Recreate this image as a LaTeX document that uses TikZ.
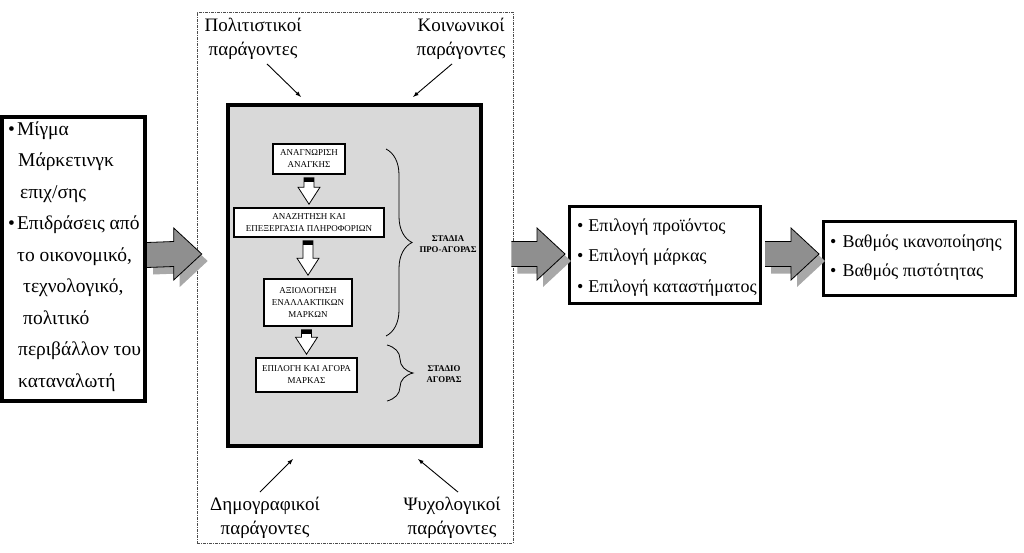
\documentclass[tikz,border=0pt]{standalone}
\usepackage{fontspec}
\setmainfont{Liberation Serif}
\usetikzlibrary{calc,decorations.pathreplacing}
\definecolor{boxgray}{RGB}{217,217,217}
\definecolor{arrowgray}{RGB}{143,143,143}
\definecolor{shadegray}{RGB}{168,168,168}
\tikzset{
  bigbox/.style={draw, line width=3pt, fill=white},
  stagebox/.style={draw, line width=1.6pt, fill=white, align=center, inner sep=0pt,
    font=\fontsize{9}{12}\selectfont},
  factor/.style={align=center, inner sep=0pt, font=\fontsize{19}{24}\selectfont},
  items/.style={anchor=west, align=left, inner sep=0pt},
  stagelabel/.style={align=center, inner sep=0pt, font=\bfseries\fontsize{8.8}{11}\selectfont},
  pointer/.style={->, line width=.9pt},
  stagebrace/.style={decorate, decoration={brace, amplitude=26pt}, line width=.8pt}
}
\begin{document}
\begin{tikzpicture}[>=latex, x=1pt, y=-1pt]
\useasboundingbox (0,0) rectangle (1024,553);

% outer frame and the shaded stage box
\node (env) at (355,277.5)[draw=black!70, line width=.6pt, dash pattern=on 3pt off 1pt on 1pt off 1pt,
  minimum width=316pt, minimum height=531pt]{};
\node (stages) at (354.5,275.5)[draw, line width=3.5pt, fill=boxgray, minimum width=253pt, minimum height=341pt]{};

% left, middle and right boxes
\node (infl) at (73.5,259)[bigbox, line width=4pt, minimum width=143pt, minimum height=284pt]{};
\node (infltext) at (8,256.5)[items, font=\fontsize{19.5}{31.5}\selectfont]{\textbullet\hspace{2pt}Μίγμα\\
  \hspace*{10pt}Μάρκετινγκ\\ \hspace*{12pt}επιχ/σης\\ \textbullet\hspace{2pt}Επιδράσεις από\\
  \hspace*{9pt}το οικονομικό,\\ \hspace*{15pt}τεχνολογικό,\\ \hspace*{15pt}πολιτικό\\
  \hspace*{10pt}περιβάλλον του\\ \hspace*{10pt}καταναλωτή};
\node (choice) at (665,255)[bigbox, minimum width=191pt, minimum height=97pt]{};
\node (choicetext) at (577,257.5)[items, font=\fontsize{18}{30.5}\selectfont]{\textbullet\hspace{5pt}Επιλογή προϊόντος\\
  \textbullet\hspace{5pt}Επιλογή μάρκας\\ \textbullet\hspace{5pt}Επιλογή καταστήματος};
\node (outcome) at (919.5,258.5)[bigbox, minimum width=192pt, minimum height=74pt]{};
\node (outcometext) at (830,257.5)[items, font=\fontsize{18}{29}\selectfont]{\textbullet\hspace{6pt}Βαθμός ικανοποίησης\\
  \textbullet\hspace{6pt}Βαθμός πιστότητας};

% factors
\node (cult) at (253,39)[factor]{Πολιτιστικοί\\παράγοντες};
\node (soc) at (461,39)[factor]{Κοινωνικοί\\παράγοντες};
\node (demo) at (265,518)[factor]{Δημογραφικοί\\παράγοντες};
\node (psych) at (452,518)[factor]{Ψυχολογικοί\\παράγοντες};
\coordinate (cultend) at (301,97);
\coordinate (socend) at (413,97);
\coordinate (demoend) at (293,459);
\coordinate (psychend) at (418,459);
\draw[pointer] ($(cult.south)+(14,4)$) -- (cultend);
\draw[pointer] ($(soc.south)+(-9,4)$) -- (socend);
\draw[pointer] ($(demo.north)+(-5,-5)$) -- (demoend);
\draw[pointer] ($(psych.north)+(6,-5)$) -- (psychend);

% decision stages
\node (need) at (309,159)[stagebox, minimum width=72pt, minimum height=30pt]{ΑΝΑΓΝΩΡΙΣΗ\\ΑΝΑΓΚΗΣ};
\node (search) at (309,222.5)[stagebox, minimum width=150pt, minimum height=29pt]{ΑΝΑΖΗΤΗΣΗ ΚΑΙ\\ΕΠΕΞΕΡΓΑΣΙΑ ΠΛΗΡΟΦΟΡΙΩΝ};
\node (eval) at (308,302.5)[stagebox, minimum width=88pt, minimum height=47pt]{ΑΞΙΟΛΟΓΗΣΗ\\ΕΝΑΛΛΑΚΤΙΚΩΝ\\ΜΑΡΚΩΝ};
\node (buy) at (306.5,375)[stagebox, minimum width=101pt, minimum height=34pt]{ΕΠΙΛΟΓΗ ΚΑΙ ΑΓΟΡΑ\\ΜΑΡΚΑΣ};

% hollow arrows between stages
\foreach \a/\b in {need/search, search/eval, eval/buy}{
  \coordinate (p) at ($(\a.south)+(0,3)$);
  \coordinate (q) at ($(\b.north)+(0,-3)$);
  \coordinate (ql) at ($(q)+(-5,0)$);
  \coordinate (qr) at ($(q)+(5,0)$);
  \draw[line width=.8pt, fill=white] (q) -- ++(-11,-17) -- ++(6,0) -- (ql |- p) -- (qr |- p)
    -- ($(q)+(5,-17)$) -- ++(6,0) -- cycle;
  \fill ($(ql |- p)+(-.4,0)$) rectangle ($(qr |- p)+(.4,4)$);
}

% braces
\draw[stagebrace] (386,149) -- (386,336);
\draw[stagebrace] (387,345) -- (387,401);
\node (pre) at (448,244)[stagelabel]{ΣΤΑΔΙΑ\\ΠΡΟ-ΑΓΟΡΑΣ};
\node (purch) at (444,374)[stagelabel]{ΣΤΑΔΙΟ\\ΑΓΟΡΑΣ};

% block arrows
\coordinate (a1s) at (infl.east |- choice.west);
\coordinate (a1t) at ($(env.west |- choice.west)+(5,-1)$);
\coordinate (a2s) at ($(env.east |- choice.west)+(-2,-1)$);
\coordinate (a2t) at ($(choice.west)+(-3,-1)$);
\coordinate (a3s) at ($(choice.east)+(3,-1)$);
\coordinate (a3t) at ($(outcome.west |- choice.west)+(-3,-1)$);
\foreach \s/\t in {a1s/a1t, a2s/a2t, a3s/a3t}{
  \begin{scope}[transform canvas={shift={(6pt,-7pt)}}]
  \fill[shadegray] ($(\s)+(0,-12.5)$) -- ($(\t)+(-28,-12.5)$) -- ($(\t)+(-28,-26)$) -- (\t)
    -- ($(\t)+(-28,26)$) -- ($(\t)+(-28,12.5)$) -- ($(\s)+(0,12.5)$) -- cycle;
  \end{scope}
  \draw[fill=arrowgray, line width=.8pt] ($(\s)+(0,-12.5)$) -- ($(\t)+(-28,-12.5)$) -- ($(\t)+(-28,-26)$) -- (\t)
    -- ($(\t)+(-28,26)$) -- ($(\t)+(-28,12.5)$) -- ($(\s)+(0,12.5)$);
}

\end{tikzpicture}
\end{document}
